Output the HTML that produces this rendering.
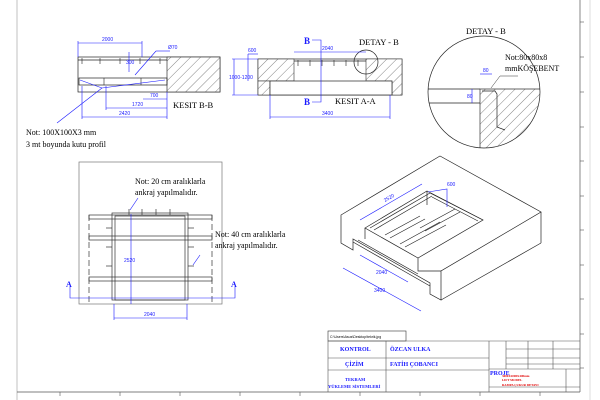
<!DOCTYPE html>
<html><head><meta charset="utf-8"><style>
html,body{margin:0;padding:0;background:#fff;width:600px;height:400px;overflow:hidden}
svg{display:block}
.t{font-family:"Liberation Serif",serif;fill:#000}
.d{font-family:"Liberation Sans",sans-serif;font-size:5px;fill:#1a1aff}
.b{stroke:#1a1aff;stroke-width:0.6;fill:none}
.k{stroke:#222;stroke-width:0.7;fill:none}
</style></head><body>
<svg width="600" height="400" viewBox="0 0 600 400" xmlns="http://www.w3.org/2000/svg">
<defs>
<pattern id="h" width="7" height="7" patternUnits="userSpaceOnUse" patternTransform="rotate(45)">
<rect width="7" height="7" fill="#fff"/><line x1="0" y1="0" x2="0" y2="7" stroke="#333" stroke-width="0.6"/></pattern>
</defs>
<!-- frame -->
<line x1="17" y1="0" x2="17" y2="400" stroke="#999" stroke-width="0.6"/>
<line x1="580" y1="0" x2="580" y2="392" stroke="#555" stroke-width="0.7"/>
<line x1="590" y1="0" x2="590" y2="400" stroke="#bbb" stroke-width="0.5"/>
<line x1="17" y1="392" x2="580" y2="392" stroke="#555" stroke-width="0.7"/>
<g stroke="#555" stroke-width="0.6">
<line x1="580" y1="22" x2="584" y2="22"/><line x1="580" y1="57" x2="584" y2="57"/><line x1="580" y1="92" x2="584" y2="92"/><line x1="580" y1="127" x2="584" y2="127"/><line x1="580" y1="161" x2="584" y2="161"/><line x1="580" y1="196" x2="584" y2="196"/><line x1="580" y1="230" x2="584" y2="230"/><line x1="580" y1="265" x2="584" y2="265"/><line x1="580" y1="299" x2="584" y2="299"/><line x1="580" y1="334" x2="584" y2="334"/><line x1="580" y1="368" x2="584" y2="368"/>
<line x1="60" y1="392" x2="60" y2="396"/><line x1="120" y1="392" x2="120" y2="396"/><line x1="180" y1="392" x2="180" y2="396"/><line x1="240" y1="392" x2="240" y2="396"/><line x1="300" y1="392" x2="300" y2="396"/><line x1="360" y1="392" x2="360" y2="396"/><line x1="420" y1="392" x2="420" y2="396"/><line x1="480" y1="392" x2="480" y2="396"/><line x1="540" y1="392" x2="540" y2="396"/>
</g>

<!-- KESIT B-B -->
<rect x="78" y="57" width="142" height="35" class="k"/>
<rect x="167" y="57" width="53" height="35" fill="url(#h)" stroke="#333" stroke-width="0.7"/>
<line x1="78" y1="60" x2="167" y2="60" class="k"/>
<rect x="79" y="78" width="88" height="7" class="k"/>
<g stroke="#222" stroke-width="0.6"><line x1="82" y1="58" x2="82" y2="64"/><line x1="100" y1="58" x2="100" y2="64"/><line x1="120" y1="58" x2="120" y2="64"/><line x1="140" y1="58" x2="140" y2="64"/><line x1="160" y1="58" x2="160" y2="64"/><line x1="104" y1="78" x2="104" y2="85"/><line x1="141" y1="78" x2="141" y2="85"/></g>
<line x1="80" y1="80" x2="102" y2="88" class="b"/><line x1="102" y1="88" x2="165" y2="80" class="b"/>
<line x1="78" y1="43" x2="142" y2="43" class="b"/><line x1="78" y1="41" x2="78" y2="57" class="b"/><line x1="142" y1="41" x2="142" y2="57" class="b"/>
<text x="102" y="41" class="d">2000</text>
<line x1="135" y1="75" x2="156" y2="51" class="b"/><line x1="156" y1="51" x2="170" y2="51" class="b"/><text x="168" y="49" class="d">Ø70</text>
<line x1="129" y1="52" x2="129" y2="72" class="b"/><text x="126" y="64" class="d">300</text>
<line x1="143" y1="99" x2="167" y2="99" class="b"/><text x="150" y="97" class="d">700</text>
<line x1="106" y1="108" x2="167" y2="108" class="b"/><line x1="106" y1="86" x2="106" y2="110" class="b"/><text x="132" y="106" class="d">1720</text>
<line x1="82" y1="117" x2="167" y2="117" class="b"/><line x1="82" y1="86" x2="82" y2="119" class="b"/><line x1="167" y1="92" x2="167" y2="119" class="b"/><text x="119" y="115" class="d">2420</text>
<line x1="57" y1="123" x2="102" y2="88" class="b"/>
<text x="173" y="108" class="t" font-size="8.5">KESIT B-B</text>
<text x="26" y="135" class="t" font-size="8">Not: 100X100X3 mm</text>
<text x="26" y="147" class="t" font-size="8">3 mt boyunda kutu profil</text>

<!-- KESIT A-A -->
<rect x="258" y="59" width="144" height="36" class="k"/>
<rect x="258" y="59" width="36" height="22" fill="url(#h)" stroke="#333" stroke-width="0.6"/>
<rect x="258" y="81" width="12" height="14" fill="url(#h)" stroke="#333" stroke-width="0.6"/>
<polygon points="366,59 402,59 402,95 392,95 392,81 366,81" fill="url(#h)" stroke="#333" stroke-width="0.6"/>
<rect x="270" y="81" width="122" height="14" fill="#fff" stroke="#222" stroke-width="0.7"/>
<line x1="294" y1="61" x2="366" y2="61" class="k"/>
<g stroke="#222" stroke-width="0.6"><line x1="298" y1="60" x2="298" y2="66"/><line x1="310" y1="60" x2="310" y2="66"/><line x1="322" y1="60" x2="322" y2="66"/><line x1="334" y1="60" x2="334" y2="66"/><line x1="346" y1="60" x2="346" y2="66"/><line x1="358" y1="60" x2="358" y2="66"/></g>
<circle cx="366" cy="62" r="12" class="k"/>
<line x1="248" y1="54" x2="258" y2="54" class="b"/><line x1="248" y1="54" x2="248" y2="81" class="b"/><text x="248" y="52" class="d">600</text>
<line x1="234" y1="59" x2="234" y2="95" class="b"/><line x1="232" y1="59" x2="258" y2="59" class="b"/><line x1="232" y1="95" x2="258" y2="95" class="b"/><text x="229" y="79" class="d">1000-1200</text>
<line x1="294" y1="52" x2="366" y2="52" class="b"/><text x="322" y="50" class="d">2040</text>
<line x1="270" y1="117" x2="390" y2="117" class="b"/><line x1="270" y1="95" x2="270" y2="119" class="b"/><line x1="390" y1="95" x2="390" y2="119" class="b"/><text x="322" y="115" class="d">3400</text>
<polyline points="312,40 321,40 321,102 312,102" class="b"/>
<text x="304" y="44" font-family="Liberation Serif,serif" font-weight="bold" font-size="9" fill="#1a1aff">B</text>
<text x="304" y="105" font-family="Liberation Serif,serif" font-weight="bold" font-size="9" fill="#1a1aff">B</text>
<text x="335" y="104" class="t" font-size="8.5">KESIT A-A</text>
<text x="359" y="45" class="t" font-size="8.5">DETAY - B</text>

<!-- DETAY B circle -->
<clipPath id="c"><circle cx="484" cy="92" r="56"/></clipPath>
<g clip-path="url(#c)">
<polygon points="480,89 545,89 545,150 480,150" fill="url(#h)" stroke="#333" stroke-width="0.7"/>
<line x1="425" y1="89" x2="480" y2="89" class="k"/><line x1="425" y1="103" x2="480" y2="103" class="k"/>
<polyline points="482,91 495,91 497,94 497,127 505,130" class="k"/>
</g>
<circle cx="484" cy="92" r="56" class="k"/>
<line x1="480" y1="74" x2="492" y2="74" class="b"/><text x="483" y="72" class="d">80</text>
<line x1="472" y1="89" x2="472" y2="103" class="b"/><text x="467" y="98" class="d">80</text>
<polyline points="491,88 500,76 518,76" stroke="#333" stroke-width="0.5" fill="none"/>
<text x="466" y="34" class="t" font-size="8.5">DETAY - B</text>
<text x="505" y="60" class="t" font-size="8">Not:80x80x8</text>
<text x="505" y="71" class="t" font-size="8">mmKÖŞEBENT</text>

<!-- plan view -->
<rect x="79" y="162" width="143" height="142" stroke="#777" stroke-width="0.7" fill="none"/>
<g stroke="#333" stroke-width="0.7" fill="none">
<rect x="89" y="215" width="123" height="4"/><rect x="89" y="236" width="123" height="4"/><rect x="89" y="277" width="123" height="4"/>
<rect x="112" y="213" width="76" height="87"/><rect x="115" y="216" width="70" height="84"/>
<line x1="89" y1="215" x2="89" y2="304" stroke-dasharray="6,3"/><line x1="212" y1="215" x2="212" y2="304" stroke-dasharray="6,3"/>
<line x1="106" y1="228" x2="112" y2="228"/><line x1="106" y1="247" x2="112" y2="247"/><line x1="106" y1="266" x2="112" y2="266"/><line x1="188" y1="228" x2="194" y2="228"/><line x1="188" y1="247" x2="194" y2="247"/><line x1="188" y1="266" x2="194" y2="266"/>
<line x1="129" y1="209" x2="129" y2="215"/><line x1="142" y1="209" x2="142" y2="215"/><line x1="156" y1="209" x2="156" y2="215"/><line x1="170" y1="209" x2="170" y2="215"/>
</g>
<line x1="131" y1="214" x2="131" y2="304" class="b"/><text x="124" y="262" class="d">2520</text>
<line x1="114" y1="318" x2="187" y2="318" class="b"/><line x1="114" y1="304" x2="114" y2="320" class="b"/><line x1="187" y1="304" x2="187" y2="320" class="b"/><text x="144" y="316" class="d">2040</text>
<polyline points="70,287 70,298 235,298 235,287" class="b"/>
<text x="66" y="287" font-family="Liberation Serif,serif" font-weight="bold" font-size="8" fill="#1a1aff">A</text>
<text x="231" y="287" font-family="Liberation Serif,serif" font-weight="bold" font-size="8" fill="#1a1aff">A</text>
<line x1="130" y1="210" x2="138" y2="198" class="b"/><line x1="193" y1="265" x2="200" y2="255" class="b"/>
<text x="135" y="184" class="t" font-size="8">Not: 20 cm aralıklarla</text>
<text x="135" y="195" class="t" font-size="8">ankraj yapılmalıdır.</text>
<text x="215" y="237" class="t" font-size="8">Not: 40 cm aralıklarla</text>
<text x="215" y="248" class="t" font-size="8">ankraj yapılmalıdır.</text>

<!-- iso view -->
<g stroke="#222" stroke-width="0.7" fill="none">
<polygon points="341,215 440,156 541,212 441,271 441,300 430,294 430,283 353,239 353,250 341,243"/>
<line x1="441" y1="300" x2="541" y2="243"/><line x1="541" y1="212" x2="541" y2="243"/>
<polygon points="365,228 427,191 483,220 418,258"/>
<polyline points="365,228 365,239"/><polyline points="427,191 427,205"/><polyline points="418,258 418,271 441,271"/>
<line x1="370" y1="228" x2="430" y2="193"/><line x1="374" y1="230" x2="432" y2="196"/>
<line x1="430" y1="193" x2="483" y2="220"/><line x1="432" y1="197" x2="478" y2="221"/>
<line x1="385" y1="235" x2="420" y2="216"/><line x1="390" y1="238" x2="425" y2="219"/>
<line x1="400" y1="244" x2="440" y2="222"/><line x1="405" y1="247" x2="446" y2="225"/>
<line x1="420" y1="228" x2="455" y2="209"/><line x1="425" y1="231" x2="460" y2="212"/>
<line x1="353" y1="242" x2="430" y2="286"/><line x1="358" y1="240" x2="418" y2="274"/>
</g>
<line x1="360" y1="220" x2="422" y2="184" class="b"/><text x="385" y="202" class="d" transform="rotate(-30 385 202)">2520</text>
<polyline points="428,192 447,189 447,207" class="b"/><text x="447" y="186" class="d">600</text>
<line x1="360" y1="255" x2="408" y2="282" class="b"/><text x="376" y="274" class="d">2040</text>
<line x1="343" y1="268" x2="421" y2="311" class="b"/><text x="374" y="292" class="d">3400</text>

<!-- title block -->
<rect x="328" y="331" width="78" height="10" stroke="#333" stroke-width="0.6" fill="none"/>
<text x="330" y="338" font-family="Liberation Sans,sans-serif" font-size="3.5">C:\Users\Asus\Desktop\tekrik.jpg</text>
<g stroke="#555" stroke-width="0.6" fill="none">
<line x1="328" y1="341" x2="580" y2="341"/><line x1="328" y1="341" x2="328" y2="392"/>
<line x1="328" y1="358" x2="489" y2="358"/><line x1="328" y1="370" x2="489" y2="370"/>
<line x1="386" y1="341" x2="386" y2="392"/><line x1="489" y1="341" x2="489" y2="392"/>
<line x1="506" y1="341" x2="506" y2="369"/><line x1="528" y1="341" x2="528" y2="369"/><line x1="553" y1="341" x2="553" y2="369"/>
<line x1="506" y1="349" x2="580" y2="349"/><line x1="506" y1="358" x2="580" y2="358"/><line x1="506" y1="364" x2="580" y2="364"/>
<line x1="489" y1="369" x2="580" y2="369"/><line x1="489" y1="387" x2="580" y2="387"/><line x1="566" y1="369" x2="566" y2="392"/>
</g>
<g font-family="Liberation Serif,serif" font-weight="bold" fill="#1a1aff">
<text x="340" y="351" font-size="6">KONTROL</text>
<text x="345" y="366" font-size="6">ÇİZİM</text>
<text x="345" y="381" font-size="4.5">TEKRAM</text>
<text x="328" y="388" font-size="4.5">YÜKLEME SİSTEMLERİ</text>
<text x="390" y="351" font-size="6">ÖZCAN ULKA</text>
<text x="390" y="366" font-size="6">FATİH ÇOBANCI</text>
<text x="490" y="375" font-size="6">PROJE</text>
</g>
<g font-family="Liberation Serif,serif" font-weight="bold" fill="#e00000" font-size="3.2">
<text x="502" y="377">3000X2000X400mm</text><text x="502" y="381">LIFT MODEL</text><text x="502" y="386">RAMPA ÇUKUR DETAYI</text>
</g>
</svg>
</body></html>
